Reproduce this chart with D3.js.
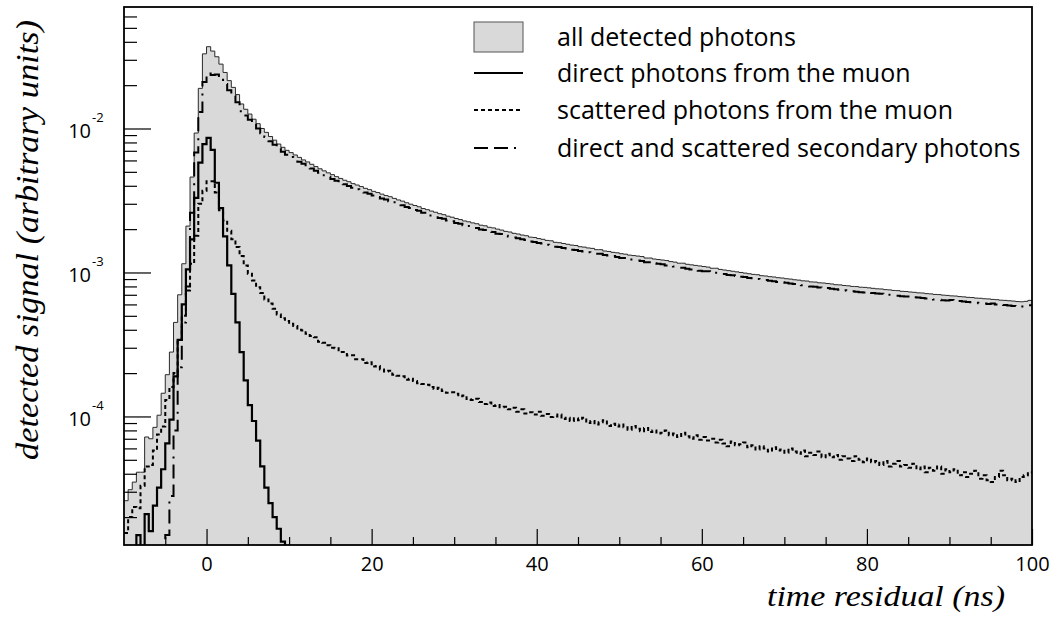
<!DOCTYPE html>
<html>
<head>
<meta charset="utf-8">
<script src="https://cdn.jsdelivr.net/npm/d3@7"></script>
<style>
  body { margin: 0; background: #fff; }
</style>
</head>
<body>
<svg id="chart" width="1053" height="619"></svg>
<script>
// Histogram binning: 0.5 ns bins starting at -10 ns
const binStart = -10;
const binWidth = 0.5;

// all detected photons
const allPhotons = [
  2.6e-5, 3.1e-5, 3.5e-5, 4.1e-5, 4.1e-5, 7.2e-5, 7.0e-5, 8.4e-5, 1.02e-4, 1.45e-4,
  1.95e-4, 2.8e-4, 4.5e-4, 7.0e-4, 1.15e-3, 2.1e-3, 4.6e-3, 9.3e-3, 1.9e-2, 3.3e-2,
  3.7e-2, 3.45e-2, 3.15e-2, 2.8e-2, 2.45e-2, 2.15e-2, 1.93e-2, 1.72e-2, 1.48e-2, 1.36e-2,
  1.26e-2, 1.16e-2, 1.08e-2, 1.0e-2, 9.4e-3, 8.8e-3, 8.3e-3, 7.8e-3, 7.4e-3, 7.05e-3,
  6.80e-3, 6.55e-3, 6.30e-3, 6.05e-3, 5.86e-3, 5.64e-3, 5.44e-3, 5.25e-3, 5.08e-3, 4.92e-3,
  4.78e-3, 4.63e-3, 4.50e-3, 4.37e-3, 4.27e-3, 4.14e-3, 4.05e-3, 3.95e-3, 3.84e-3, 3.76e-3,
  3.66e-3, 3.59e-3, 3.50e-3, 3.42e-3, 3.36e-3, 3.27e-3, 3.19e-3, 3.13e-3, 3.05e-3, 2.98e-3,
  2.92e-3, 2.86e-3, 2.78e-3, 2.73e-3, 2.67e-3, 2.62e-3, 2.56e-3, 2.52e-3, 2.46e-3, 2.42e-3,
  2.37e-3, 2.33e-3, 2.28e-3, 2.25e-3, 2.21e-3, 2.18e-3, 2.13e-3, 2.11e-3, 2.06e-3, 2.04e-3,
  2.00e-3, 1.97e-3, 1.93e-3, 1.91e-3, 1.87e-3, 1.85e-3, 1.82e-3, 1.80e-3, 1.76e-3, 1.75e-3,
  1.72e-3, 1.70e-3, 1.67e-3, 1.66e-3, 1.62e-3, 1.61e-3, 1.59e-3, 1.57e-3, 1.55e-3, 1.54e-3,
  1.51e-3, 1.50e-3, 1.48e-3, 1.47e-3, 1.44e-3, 1.44e-3, 1.41e-3, 1.40e-3, 1.38e-3, 1.37e-3,
  1.35e-3, 1.34e-3, 1.32e-3, 1.31e-3, 1.30e-3, 1.29e-3, 1.26e-3, 1.26e-3, 1.24e-3, 1.23e-3,
  1.22e-3, 1.21e-3, 1.19e-3, 1.18e-3, 1.16e-3, 1.16e-3, 1.14e-3, 1.13e-3, 1.12e-3, 1.11e-3,
  1.10e-3, 1.09e-3, 1.07e-3, 1.07e-3, 1.05e-3, 1.04e-3, 1.03e-3, 1.02e-3, 1.01e-3, 1.00e-3,
  9.9e-4, 9.8e-4, 9.7e-4, 9.65e-4, 9.5e-4, 9.45e-4, 9.35e-4, 9.3e-4, 9.2e-4, 9.15e-4,
  9.05e-4, 9.0e-4, 8.9e-4, 8.85e-4, 8.75e-4, 8.72e-4, 8.6e-4, 8.58e-4, 8.48e-4, 8.45e-4,
  8.38e-4, 8.32e-4, 8.22e-4, 8.2e-4, 8.12e-4, 8.08e-4, 8.0e-4, 7.98e-4, 7.9e-4, 7.88e-4,
  7.82e-4, 7.76e-4, 7.7e-4, 7.68e-4, 7.6e-4, 7.57e-4, 7.5e-4, 7.48e-4, 7.4e-4, 7.38e-4,
  7.32e-4, 7.28e-4, 7.22e-4, 7.2e-4, 7.13e-4, 7.1e-4, 7.04e-4, 7.02e-4, 6.96e-4, 6.93e-4,
  6.88e-4, 6.86e-4, 6.8e-4, 6.77e-4, 6.72e-4, 6.7e-4, 6.64e-4, 6.62e-4, 6.57e-4, 6.55e-4,
  6.5e-4, 6.47e-4, 6.42e-4, 6.4e-4, 6.36e-4, 6.33e-4, 6.28e-4, 6.26e-4, 6.3e-4, 6.4e-4
];

// direct photons from the muon (empty beyond 10 ns)
const directMuon = [
  0, 0, 0, 1.5e-5, 0, 2.1e-5, 1.6e-5, 2.4e-5, 3.2e-5, 4.3e-5,
  6.5e-5, 9.5e-5, 1.9e-4, 3.4e-4, 6.0e-4, 1.05e-3, 1.7e-3, 3.3e-3, 5.8e-3, 7.8e-3,
  8.6e-3, 7.1e-3, 4.2e-3, 2.8e-3, 1.78e-3, 1.12e-3, 7.1e-4, 4.5e-4, 2.8e-4, 1.78e-4,
  1.2e-4, 9.3e-5, 6.8e-5, 4.5e-5, 3.2e-5, 2.5e-5, 2.0e-5, 1.66e-5, 1.35e-5, 0
];

// scattered photons from the muon
const scatteredMuon = [
  1.55e-5, 2.0e-5, 2.35e-5, 2.3e-5, 3.3e-5, 4.5e-5, 4.6e-5, 5.8e-5, 7.5e-5, 8.5e-5,
  1.3e-4, 1.6e-4, 2.0e-4, 3.4e-4, 5.0e-4, 7.5e-4, 1.15e-3, 1.8e-3, 3.0e-3, 3.7e-3,
  4.3e-3, 4.3e-3, 3.6e-3, 2.7e-3, 2.3e-3, 1.95e-3, 1.7e-3, 1.5e-3, 1.3e-3, 1.12e-3,
  9.8e-4, 8.8e-4, 7.9e-4, 7.2e-4, 6.5e-4, 6.1e-4, 5.6e-4, 5.1e-4, 4.8e-4, 4.6e-4,
  4.4e-4, 4.25e-4, 4.0e-4, 3.95e-4, 3.75e-4, 3.62e-4, 3.55e-4, 3.3e-4, 3.25e-4, 3.12e-4,
  3.0e-4, 2.98e-4, 2.8e-4, 2.8e-4, 2.65e-4, 2.66e-4, 2.5e-4, 2.5e-4, 2.35e-4, 2.38e-4,
  2.22e-4, 2.24e-4, 2.12e-4, 2.05e-4, 2.08e-4, 1.95e-4, 1.92e-4, 1.9e-4, 1.8e-4, 1.83e-4,
  1.76e-4, 1.7e-4, 1.68e-4, 1.66e-4, 1.6e-4, 1.55e-4, 1.58e-4, 1.5e-4, 1.46e-4, 1.47e-4,
  1.44e-4, 1.38e-4, 1.4e-4, 1.32e-4, 1.3e-4, 1.33e-4, 1.26e-4, 1.22e-4, 1.25e-4, 1.18e-4,
  1.2e-4, 1.16e-4, 1.17e-4, 1.12e-4, 1.15e-4, 1.08e-4, 1.12e-4, 1.05e-4, 1.07e-4, 1.03e-4,
  1.08e-4, 1.01e-4, 1.04e-4, 9.9e-5, 1.0e-4, 1.03e-4, 9.6e-5, 9.8e-5, 9.3e-5, 9.7e-5,
  9.4e-5, 9.8e-5, 9.0e-5, 9.3e-5, 8.8e-5, 9.1e-5, 9.4e-5, 8.6e-5, 8.9e-5, 8.5e-5,
  8.8e-5, 8.4e-5, 8.1e-5, 8.6e-5, 8.2e-5, 7.9e-5, 8.3e-5, 7.8e-5, 8.0e-5, 7.6e-5,
  7.7e-5, 8.0e-5, 7.4e-5, 7.6e-5, 7.2e-5, 7.7e-5, 7.3e-5, 7.0e-5, 7.4e-5, 6.9e-5,
  7.2e-5, 6.8e-5, 7.0e-5, 6.6e-5, 6.9e-5, 6.5e-5, 6.2e-5, 6.7e-5, 6.3e-5, 6.4e-5,
  6.6e-5, 6.1e-5, 6.3e-5, 5.9e-5, 6.2e-5, 6.0e-5, 5.7e-5, 6.1e-5, 5.8e-5, 5.9e-5,
  5.6e-5, 6.0e-5, 5.7e-5, 5.5e-5, 5.8e-5, 5.3e-5, 5.6e-5, 5.4e-5, 5.7e-5, 5.2e-5,
  5.5e-5, 5.2e-5, 5.4e-5, 5.0e-5, 5.3e-5, 5.1e-5, 4.9e-5, 5.3e-5, 5.0e-5, 4.8e-5,
  5.1e-5, 4.8e-5, 4.9e-5, 4.6e-5, 4.9e-5, 4.5e-5, 4.7e-5, 4.9e-5, 4.5e-5, 4.6e-5,
  4.4e-5, 4.7e-5, 4.3e-5, 4.5e-5, 4.1e-5, 4.4e-5, 4.2e-5, 4.5e-5, 4.0e-5, 4.3e-5,
  4.1e-5, 4.3e-5, 3.9e-5, 4.1e-5, 3.8e-5, 4.0e-5, 4.2e-5, 3.7e-5, 3.9e-5, 3.6e-5,
  3.5e-5, 3.8e-5, 4.2e-5, 3.9e-5, 3.6e-5, 3.7e-5, 3.5e-5, 3.8e-5, 3.9e-5, 4.1e-5
];

// direct and scattered secondary photons
const secondaryPhotons = [
  0, 0, 0, 0, 0, 0, 0, 0, 0, 0,
  1.5e-5, 2.8e-5, 8.0e-5, 2.2e-4, 4.5e-4, 8.0e-4, 2.6e-3, 6.8e-3, 1.3e-2, 2.1e-2,
  2.41e-2, 2.35e-2, 2.37e-2, 2.25e-2, 2.04e-2, 1.84e-2, 1.69e-2, 1.52e-2, 1.32e-2, 1.23e-2,
  1.15e-2, 1.06e-2, 1.0e-2, 9.25e-3, 8.72e-3, 8.17e-3, 7.72e-3, 7.27e-3, 6.9e-3, 6.57e-3,
  6.33e-3, 6.15e-3, 5.87e-3, 5.70e-3, 5.45e-3, 5.28e-3, 5.08e-3, 4.93e-3, 4.74e-3, 4.62e-3,
  4.46e-3, 4.33e-3, 4.20e-3, 4.10e-3, 3.98e-3, 3.88e-3, 3.78e-3, 3.69e-3, 3.59e-3, 3.52e-3,
  3.42e-3, 3.35e-3, 3.27e-3, 3.21e-3, 3.12e-3, 3.07e-3, 2.98e-3, 2.93e-3, 2.85e-3, 2.80e-3,
  2.72e-3, 2.68e-3, 2.60e-3, 2.56e-3, 2.49e-3, 2.46e-3, 2.39e-3, 2.36e-3, 2.30e-3, 2.27e-3,
  2.21e-3, 2.18e-3, 2.13e-3, 2.10e-3, 2.06e-3, 2.04e-3, 1.99e-3, 1.97e-3, 1.92e-3, 1.91e-3,
  1.86e-3, 1.85e-3, 1.80e-3, 1.78e-3, 1.75e-3, 1.73e-3, 1.70e-3, 1.68e-3, 1.64e-3, 1.63e-3,
  1.60e-3, 1.59e-3, 1.56e-3, 1.54e-3, 1.51e-3, 1.50e-3, 1.48e-3, 1.47e-3, 1.44e-3, 1.43e-3,
  1.41e-3, 1.40e-3, 1.38e-3, 1.37e-3, 1.35e-3, 1.35e-3, 1.32e-3, 1.31e-3, 1.30e-3, 1.28e-3,
  1.26e-3, 1.26e-3, 1.23e-3, 1.23e-3, 1.21e-3, 1.20e-3, 1.18e-3, 1.18e-3, 1.16e-3, 1.15e-3,
  1.14e-3, 1.12e-3, 1.11e-3, 1.10e-3, 1.08e-3, 1.08e-3, 1.06e-3, 1.05e-3, 1.04e-3, 1.03e-3,
  1.02e-3, 1.02e-3, 1.0e-3, 9.95e-4, 9.8e-4, 9.75e-4, 9.6e-4, 9.55e-4, 9.45e-4, 9.35e-4,
  9.3e-4, 9.15e-4, 9.1e-4, 9.0e-4, 8.9e-4, 8.85e-4, 8.75e-4, 8.7e-4, 8.6e-4, 8.55e-4,
  8.5e-4, 8.38e-4, 8.32e-4, 8.25e-4, 8.15e-4, 8.1e-4, 8.0e-4, 7.95e-4, 7.88e-4, 7.82e-4,
  7.8e-4, 7.7e-4, 7.66e-4, 7.6e-4, 7.52e-4, 7.48e-4, 7.4e-4, 7.36e-4, 7.3e-4, 7.26e-4,
  7.3e-4, 7.2e-4, 7.15e-4, 7.12e-4, 7.04e-4, 7.0e-4, 6.94e-4, 6.9e-4, 6.84e-4, 6.8e-4,
  6.82e-4, 6.74e-4, 6.7e-4, 6.66e-4, 6.6e-4, 6.56e-4, 6.5e-4, 6.47e-4, 6.42e-4, 6.38e-4,
  6.44e-4, 6.36e-4, 6.33e-4, 6.28e-4, 6.24e-4, 6.2e-4, 6.16e-4, 6.12e-4, 6.08e-4, 6.04e-4,
  6.08e-4, 6.0e-4, 5.98e-4, 5.94e-4, 5.9e-4, 5.86e-4, 5.84e-4, 5.8e-4, 5.84e-4, 5.92e-4
];

const xMajorTicks = [0, 20, 40, 60, 80, 100];
const xMinorStep = 5;
const yDecadeExponents = [-2, -3, -4];
const legendLabels = [
  "all detected photons",
  "direct photons from the muon",
  "scattered photons from the muon",
  "direct and scattered secondary photons"
];
const xTitle = "time residual (ns)";
const yTitle = "detected signal (arbitrary units)";

// ---- layout ----
const sansFont = "Open Sans, Noto Sans, sans-serif";
const serifFont = "Liberation Serif, DejaVu Serif, serif";
const frame = { left: 124, right: 1032, top: 7, bottom: 545 };
const svg = d3.select("#chart");

const x = d3.scaleLinear().domain([-10, 100]).range([frame.left, frame.right]);
const y = d3.scaleLog().domain([1.28e-5, 0.0698]).range([frame.bottom, frame.top]);

// step points for a histogram: each bin contributes its two edges at its height
function stepPoints(values) {
  const pts = [];
  values.forEach((v, i) => {
    const lo = binStart + i * binWidth;
    const hi = lo + binWidth;
    const val = v > y.domain()[0] ? v : null;
    pts.push([lo, val], [hi, val]);
  });
  return pts;
}
const yPix = v => (v === null ? frame.bottom + 2 : y(v));
const stepLine = d3.line().x(d => x(d[0])).y(d => yPix(d[1]));
const stepArea = d3.area().x(d => x(d[0])).y0(frame.bottom + 2).y1(d => yPix(d[1]));

svg.append("clipPath").attr("id", "plotClip")
  .append("rect")
  .attr("x", frame.left).attr("y", frame.top)
  .attr("width", frame.right - frame.left).attr("height", frame.bottom - frame.top);

const plot = svg.append("g").attr("clip-path", "url(#plotClip)");

const fillGray = "#d9d9d9";

// total: filled histogram with thin outline
const totalPts = stepPoints(allPhotons);
plot.append("path").attr("d", stepArea(totalPts)).attr("fill", fillGray);
plot.append("path").attr("d", stepLine(totalPts))
  .attr("fill", "none").attr("stroke", "#2a2a2a").attr("stroke-width", 1);

// secondary photons: long dashes with a dot
plot.append("path").attr("d", stepLine(stepPoints(secondaryPhotons)))
  .attr("fill", "none").attr("stroke", "#000").attr("stroke-width", 2)
  .attr("stroke-dasharray", "14,6,14,6,2,7");

// scattered photons: short dashes
plot.append("path").attr("d", stepLine(stepPoints(scatteredMuon)))
  .attr("fill", "none").attr("stroke", "#000").attr("stroke-width", 2)
  .attr("stroke-dasharray", "4,3");

// direct photons: solid
plot.append("path").attr("d", stepLine(stepPoints(directMuon)))
  .attr("fill", "none").attr("stroke", "#000").attr("stroke-width", 2.2);

// ---- axes ----
const xMinor = d3.range(-5, 100, xMinorStep).filter(t => !xMajorTicks.includes(t));
const xAxisMinor = d3.axisBottom(x).tickValues(xMinor).tickSize(-8).tickFormat("");
const xAxisMajor = d3.axisBottom(x).tickValues(xMajorTicks).tickSize(-16).tickPadding(12)
  .tickFormat(d3.format("d"));

const gxMinor = svg.append("g").attr("transform", `translate(0,${frame.bottom})`).call(xAxisMinor);
const gxMajor = svg.append("g").attr("transform", `translate(0,${frame.bottom})`).call(xAxisMajor);
[gxMinor, gxMajor].forEach(g => {
  g.select(".domain").remove();
  g.selectAll(".tick line").attr("stroke", "#000").attr("stroke-width", 1.2);
});
gxMajor.selectAll(".tick text")
  .attr("fill", "#000").attr("font-size", 20).attr("font-family", sansFont);

const yMinorVals = [];
[-5, -4, -3, -2].forEach(e => {
  for (let m = 2; m <= 9; m++) yMinorVals.push(m * Math.pow(10, e));
});
const yMajorVals = yDecadeExponents.map(e => Math.pow(10, e));
const yAxisMinor = d3.axisLeft(y).tickValues(yMinorVals.filter(v => v >= y.domain()[0] && v <= y.domain()[1]))
  .tickSize(-13).tickFormat("");
const yAxisMajor = d3.axisLeft(y).tickValues(yMajorVals).tickSize(-27).tickFormat("");
const gyMinor = svg.append("g").attr("transform", `translate(${frame.left},0)`).call(yAxisMinor);
const gyMajor = svg.append("g").attr("transform", `translate(${frame.left},0)`).call(yAxisMajor);
[gyMinor, gyMajor].forEach(g => {
  g.select(".domain").remove();
  g.selectAll(".tick line").attr("stroke", "#000").attr("stroke-width", 1.2);
});

// power-of-ten labels with superscript exponents
const yLab = svg.append("g").attr("font-family", sansFont).attr("fill", "#000");
yDecadeExponents.forEach(e => {
  const yy = y(Math.pow(10, e));
  yLab.append("text").attr("x", 91).attr("y", yy + 9.5)
    .attr("text-anchor", "end").attr("font-size", 20).text("10");
  yLab.append("text").attr("x", 92).attr("y", yy - 6)
    .attr("font-size", 13).text(String(e));
});

// frame
svg.append("rect")
  .attr("x", frame.left).attr("y", frame.top)
  .attr("width", frame.right - frame.left).attr("height", frame.bottom - frame.top)
  .attr("fill", "none").attr("stroke", "#000").attr("stroke-width", 1.8);

// ---- axis titles ----
svg.append("text")
  .attr("x", 1005).attr("y", 606).attr("text-anchor", "end")
  .attr("font-size", 30).attr("fill", "#000")
  .attr("font-family", serifFont).attr("font-style", "italic")
  .attr("textLength", 238).attr("lengthAdjust", "spacingAndGlyphs")
  .text(xTitle);

svg.append("text")
  .attr("transform", "translate(38,460) rotate(-90)")
  .attr("x", 0).attr("y", 0).attr("text-anchor", "start")
  .attr("font-size", 31).attr("fill", "#000")
  .attr("font-family", serifFont).attr("font-style", "italic")
  .attr("textLength", 440).attr("lengthAdjust", "spacingAndGlyphs")
  .text(yTitle);

// ---- legend ----
const legend = svg.append("g");
const legX0 = 474, legX1 = 523, legTextX = 557;
const legRowY = [37, 73, 110, 148];
legend.append("rect")
  .attr("x", legX0).attr("y", legRowY[0] - 15).attr("width", legX1 - legX0).attr("height", 30)
  .attr("fill", fillGray).attr("stroke", "#555").attr("stroke-width", 1);
const legStyles = [null, null, "4,3", "14,6,14,6,2,7"];
[1, 2, 3].forEach(i => {
  legend.append("line")
    .attr("x1", legX0).attr("x2", legX1).attr("y1", legRowY[i]).attr("y2", legRowY[i])
    .attr("stroke", "#000").attr("stroke-width", 2)
    .attr("stroke-dasharray", legStyles[i]);
});
legendLabels.forEach((t, i) => {
  legend.append("text").attr("x", legTextX).attr("y", legRowY[i] + 9)
    .attr("font-size", 25).attr("font-family", sansFont).attr("fill", "#000").text(t);
});
</script>
</body>
</html>
